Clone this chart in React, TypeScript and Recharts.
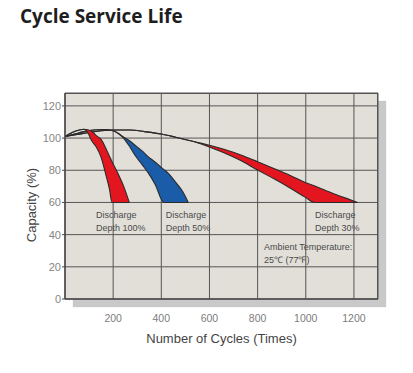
import { ComposedChart, Area, XAxis, YAxis, CartesianGrid, ReferenceDot, Label } from "recharts";

// cycles (x) and capacity % (low edge / high edge) of each band
const cycles100 = [0, 30, 60, 78, 95, 110, 130, 150, 170, 185, 195, 220, 245, 267];
const low100 = [101, 103.5, 105, 105.5, 103.3, 98.5, 94.5, 88, 77, 68, 60, 60, 60, 60];
const high100 = [101, 103.5, 105, 105.5, 105.2, 104.3, 101.5, 99.2, 93.5, 88.5, 85.5, 78, 69.5, 60];

const cycles50 = [0, 40, 80, 120, 160, 200, 220, 240, 265, 290, 320, 345, 375, 410, 425, 460, 490, 512];
const low50 = [101, 102.5, 104, 105, 105.3, 104.5, 103, 100.5, 95.5, 89.5, 83.5, 78.5, 71, 60, 60, 60, 60, 60];
const high50 = [101, 102.5, 104, 105, 105.3, 104.5, 103, 101, 98.6, 95.7, 92, 88.5, 85, 80.5, 78.7, 72.5, 66.5, 60];

const cycles30 = [0, 50, 100, 150, 200, 270, 330, 400, 460, 530, 600, 660, 730, 800, 870, 940, 1000, 1035, 1080, 1130, 1180, 1215];
const low30 = [101, 102.2, 103.5, 104.5, 105, 105, 104, 102.5, 100.5, 98, 94.5, 90.8, 86, 80.1, 74.5, 68.5, 63, 60, 60, 60, 60, 60];
const high30 = [101, 102.2, 103.5, 104.5, 105, 105, 104, 102.5, 100.5, 98, 95.5, 93, 89.5, 85.3, 81, 76.5, 72.3, 70.3, 67.6, 64.6, 61.9, 60];

const xTicks = [200, 400, 600, 800, 1000, 1200];
const yTicks = [0, 20, 40, 60, 80, 100, 120];

const noteX = [129, 418, 1038, 826];
const noteY = [50.3, 50.3, 50.3, 30.4];
const noteText = [
  ["Discharge", "Depth 100%"],
  ["Discharge", "Depth 50%"],
  ["Discharge", "Depth 30%"],
  ["Ambient Temperature:", "25\u2103  (77\u2109)"],
];

const band = (xs: number[], lo: number[], hi: number[]) =>
  xs.map((x, i) => ({ x, range: [lo[i], hi[i]] }));

const band100 = band(cycles100, low100, high100);
const band50 = band(cycles50, low50, high50);
const band30 = band(cycles30, low30, high30);

const W = 413;
const H = 373;
const plot = { left: 65, top: 93, right: 378, bottom: 299 };

const Note = ({ viewBox, lines }: any) => {
  if (!viewBox) return null;
  return (
    <text
      x={viewBox.x}
      y={viewBox.y}
      fill="#4a4a4a"
      fontSize={9}
      fontFamily="'Liberation Sans', Arial, sans-serif"
    >
      {lines.map((l: string, i: number) => (
        <tspan key={i} x={viewBox.x} dy={i === 0 ? 0 : 12.5}>
          {l}
        </tspan>
      ))}
    </text>
  );
};

const YTitle = ({ viewBox }: any) => {
  if (!viewBox) return null;
  const cx = viewBox.x + 31;
  const cy = viewBox.y + viewBox.height / 2 + 9;
  return (
    <text
      x={cx}
      y={cy}
      transform={`rotate(-90, ${cx}, ${cy})`}
      textAnchor="middle"
      dominantBaseline="central"
      fill="#444"
      fontSize={13}
      fontFamily="'Liberation Sans', Arial, sans-serif"
    >
      Capacity (%)
    </text>
  );
};

export default function App() {
  const lineColor = "#2b2b2b";
  return (
    <div style={{ position: "absolute", left: 0, top: 0, width: W, height: H, background: "#fff" }}>
      <div
        style={{
          position: "absolute",
          left: 20,
          top: 7,
          fontFamily: "'Open Sans', sans-serif",
          fontWeight: 700,
          fontSize: 19,
          lineHeight: "19px",
          color: "#1e1e1e",
        }}
      >
        Cycle Service Life
      </div>
      <div
        style={{
          position: "absolute",
          left: plot.left,
          top: plot.top,
          width: plot.right - plot.left,
          height: plot.bottom - plot.top,
          boxSizing: "border-box",
          background: "#e2dfd9",
          borderTop: "1px solid #555",
          borderRight: "1.5px solid #555",
          boxShadow: "8px 8px 1px #c9c9c9",
        }}
      />
      <div style={{ position: "absolute", left: 0, top: 0 }}>
        <ComposedChart
          width={W}
          height={H}
          margin={{ top: plot.top, right: W - plot.right, bottom: H - plot.bottom - 30, left: 0 }}
        >
          <CartesianGrid stroke="#555" strokeWidth={1} />
          <XAxis
            type="number"
            dataKey="x"
            domain={[0, 1300]}
            ticks={xTicks}
            allowDataOverflow
            height={30}
            axisLine={{ stroke: "#4a4a4a", strokeWidth: 1.5 }}
            tickLine={false}
            tickMargin={10}
            tick={{ fill: "#7d7d7d", fontSize: 10.5, fontFamily: "'Liberation Sans', Arial, sans-serif" }}
          >
            <Label
              value="Number of Cycles (Times)"
              position="bottom"
              offset={5}
              fill="#444"
              fontSize={13}
              fontFamily="'Liberation Sans', Arial, sans-serif"
            />
          </XAxis>
          <YAxis
            type="number"
            domain={[0, 128]}
            ticks={yTicks}
            allowDataOverflow
            width={65}
            axisLine={{ stroke: "#4a4a4a", strokeWidth: 1.5 }}
            tickLine={{ stroke: "#4a4a4a" }}
            tickSize={3}
            tickMargin={1}
            tick={{ fill: "#858585", fontSize: 11, fontFamily: "'Liberation Sans', Arial, sans-serif" }}
          >
            <Label content={<YTitle />} />
          </YAxis>
          <Area
            data={band30}
            dataKey="range"
            type="monotone"
            fill="#e3161f"
            fillOpacity={1}
            stroke={lineColor}
            strokeWidth={1.1}
            isAnimationActive={false}
          />
          <Area
            data={band50}
            dataKey="range"
            type="monotone"
            fill="#1a5ca8"
            fillOpacity={1}
            stroke={lineColor}
            strokeWidth={1.1}
            isAnimationActive={false}
          />
          <Area
            data={band100}
            dataKey="range"
            type="monotone"
            fill="#e3161f"
            fillOpacity={1}
            stroke={lineColor}
            strokeWidth={1.1}
            isAnimationActive={false}
          />
          {noteX.map((x, i) => (
            <ReferenceDot
              key={i}
              x={x}
              y={noteY[i]}
              r={0}
              fill="none"
              stroke="none"
              label={<Note lines={noteText[i]} />}
            />
          ))}
        </ComposedChart>
      </div>
    </div>
  );
}
